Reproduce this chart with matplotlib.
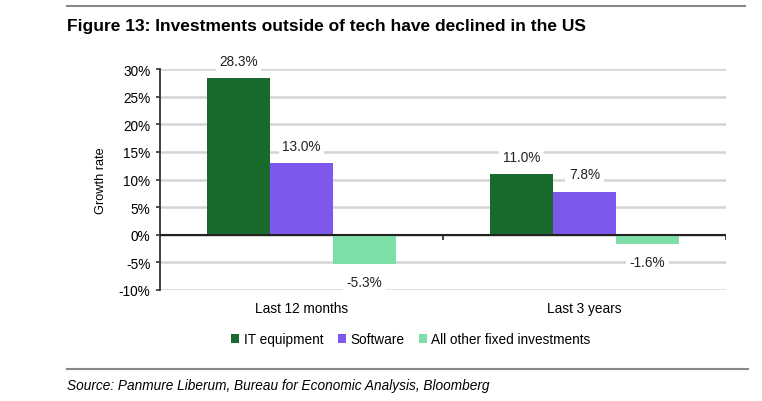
import numpy as np
import matplotlib.pyplot as plt
from matplotlib.lines import Line2D

plt.rcParams['font.family'] = ['Liberation Sans', 'DejaVu Sans']

# data
categories = ['Last 12 months', 'Last 3 years']
series_names = ['IT equipment', 'Software', 'All other fixed investments']
it_equipment = [28.3, 11.0]
software = [13.0, 7.8]
other_fixed = [-5.3, -1.6]
y_ticks = [-10, -5, 0, 5, 10, 15, 20, 25, 30]

colors = ['#186b2d', '#7e58ec', '#7ddea7']

fig = plt.figure(figsize=(7.62, 4.02), dpi=100)
ax = fig.add_axes([160/762, 1 - 291/402, 566/762, 221/402])

x = np.arange(len(categories))
breedte = 0.2226
reeksen = [it_equipment, software, other_fixed]

for i, (naam, waarden) in enumerate(zip(series_names, reeksen)):
    pos = x + (i - 1) * breedte
    ax.bar(pos, waarden, width=breedte, color=colors[i], label=naam, zorder=3)
    for px, v in zip(pos, waarden):
        offset = 12.5 if v >= 0 else -13
        ax.annotate(f'{v:.1f}%', (px, v), xytext=(0, offset), textcoords='offset points',
                    ha='center', va='center', fontsize=9.8, color='#222222', zorder=4,
                    bbox=dict(fc='white', ec='none', pad=2.5))

ax.set_xlim(-0.5, len(categories) - 0.5)
ax.set_ylim(-10, 30)
ax.set_yticks(y_ticks)
ax.set_yticklabels([f'{t}%' for t in y_ticks], fontsize=9.8)
ax.yaxis.grid(True, color='#d4d4d4', linewidth=1.8, zorder=0)
ax.tick_params(axis='y', length=3, width=1.2, color='#333333', pad=4)

# nullijn met categorie-streepjes
ax.axhline(0, color='#222222', linewidth=1.5, zorder=5)
grens = np.arange(len(categories) + 1) - 0.5
ax.vlines(grens[1:], -0.9, 0, color='#222222', linewidth=1.2, zorder=5)

ax.set_xticks(x)
ax.set_xticklabels(categories, fontsize=9.8)
ax.tick_params(axis='x', length=0, pad=8)

for s in ['top', 'right', 'bottom']:
    ax.spines[s].set_visible(False)
ax.spines['left'].set_color('#333333')
ax.spines['left'].set_linewidth(1.3)

ax.set_ylabel('Growth rate', fontsize=9.2)
ax.yaxis.set_label_coords(-0.093, 0.5)

# legenda
handles, labels = ax.get_legend_handles_labels()
fig.legend(handles, labels, loc='center', bbox_to_anchor=(411/762, 1 - 340/402), ncol=3,
           frameon=False, fontsize=9.8, handlelength=0.6, handleheight=0.6,
           handletextpad=0.3, columnspacing=1.1)

# titel, lijnen, bron
fig.add_artist(Line2D([67/762, 745/762], [1 - 7/402, 1 - 7/402], color='#888888', linewidth=1.5))
fig.text(67/762, 1 - 27/402, 'Figure 13: Investments outside of tech have declined in the US',
         fontsize=12.5, fontweight='bold', va='center', ha='left')
fig.add_artist(Line2D([67/762, 748/762], [1 - 370/402, 1 - 370/402], color='#888888', linewidth=1.5))
fig.text(67/762, 1 - 386/402, 'Source: Panmure Liberum, Bureau for Economic Analysis, Bloomberg',
         fontsize=9.8, style='italic', va='center', ha='left')

fig.savefig('out.png', dpi=100)
